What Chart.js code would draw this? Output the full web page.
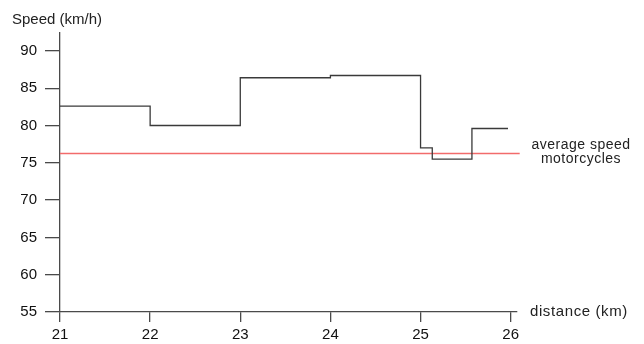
<!DOCTYPE html>
<html>
<head>
<meta charset="utf-8">
<script src="https://cdn.jsdelivr.net/npm/chart.js@4/dist/chart.umd.min.js"></script>
<style>
  html, body { margin: 0; padding: 0; background: #fff; }
  #wrap { width: 644px; height: 344px; }
</style>
</head>
<body>
<div id="wrap"><canvas id="speedChart" width="644" height="344"></canvas></div>
<script>
// distance (km) where each speed segment starts, last entry is the end of the track
const segStart = [21, 22, 23, 24, 25, 25.13, 25.57, 25.97];
const segSpeed = [82.6, 80.0, 86.4, 86.7, 77.0, 75.5, 79.6, 79.6];
const avgSpeed = 76.25;
const avgRange = [21, 26.1];
const xTicks = [21, 22, 23, 24, 25, 26];
const yTicks = [55, 60, 65, 70, 75, 80, 85, 90];

const axisColor = "#4a4a4a";
const font = "'Liberation Sans', Arial, sans-serif";

// axis titles + legend text next to the red line
const labelsPlugin = {
  id: "labels",
  afterDraw(chart) {
    const ctx = chart.ctx;
    const x = chart.scales.x, y = chart.scales.y;
    ctx.save();
    ctx.fillStyle = "#222";
    ctx.textBaseline = "middle";
    ctx.textAlign = "left";
    ctx.font = "15px " + font;
    ctx.fillText("Speed (km/h)", 12, 20);
    ctx.letterSpacing = "0.6px";
    ctx.fillText("distance (km)", x.right + 13, y.bottom);
    ctx.textAlign = "center";
    ctx.font = "14px " + font;
    ctx.letterSpacing = "0.5px";
    const yy = y.getPixelForValue(avgSpeed);
    ctx.fillText("average speed", 581, yy - 8);
    ctx.fillText("motorcycles", 581, yy + 6);
    ctx.restore();
  }
};

new Chart(document.getElementById("speedChart"), {
  type: "line",
  data: {
    datasets: [
      {
        data: segStart.map((d, i) => ({ x: d, y: segSpeed[i] })),
        stepped: "before",
        borderColor: "#3a3a3a",
        borderWidth: 1.3,
        pointRadius: 0,
        fill: false
      },
      {
        data: avgRange.map(d => ({ x: d, y: avgSpeed })),
        borderColor: "#f26b6b",
        borderWidth: 1.3,
        pointRadius: 0,
        fill: false,
        clip: false
      }
    ]
  },
  options: {
    responsive: false,
    animation: false,
    layout: { padding: { left: 0, right: 127, top: 33, bottom: 0 } },
    plugins: { legend: { display: false }, tooltip: { enabled: false } },
    scales: {
      x: {
        type: "linear",
        min: 21,
        max: 26.07,
        afterBuildTicks: s => { s.ticks = xTicks.map(v => ({ value: v })); },
        afterFit: s => { s.height = 32; },
        border: { display: true, color: axisColor, width: 1.3 },
        grid: { drawOnChartArea: false, drawTicks: true, tickLength: 10, color: axisColor, lineWidth: 1.3 },
        ticks: { color: "#111", font: { size: 15, family: font }, padding: 4, maxRotation: 0 }
      },
      y: {
        type: "linear",
        min: 55,
        max: 92.4,
        afterBuildTicks: s => { s.ticks = yTicks.map(v => ({ value: v })); },
        afterFit: s => { s.width = 60; },
        border: { display: true, color: axisColor, width: 1.3 },
        grid: { drawOnChartArea: false, drawTicks: true, tickLength: 15, color: axisColor, lineWidth: 1.3 },
        ticks: { color: "#111", font: { size: 15, family: font }, padding: 8 }
      }
    }
  },
  plugins: [labelsPlugin]
});
</script>
</body>
</html>
